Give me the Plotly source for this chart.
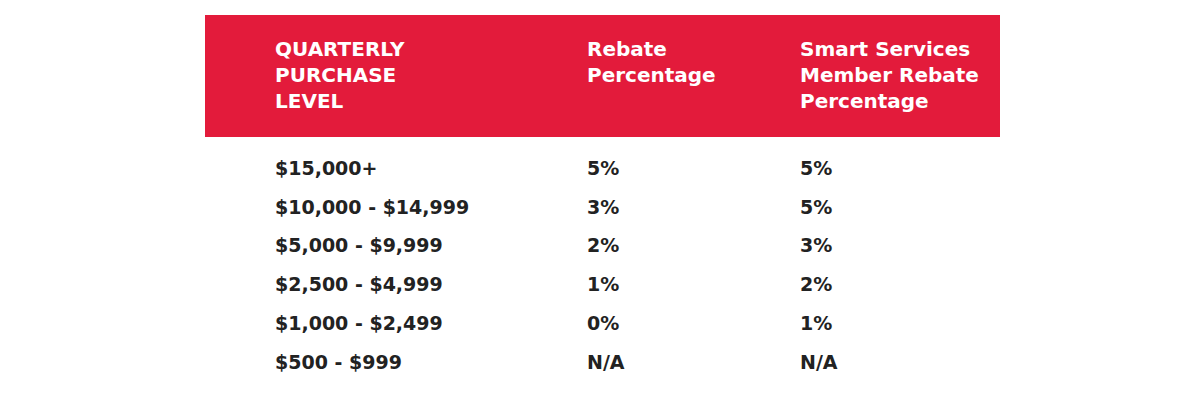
import plotly.graph_objects as go

# Datos de la tabla
HEADERS = ['QUARTERLY<br>PURCHASE<br>LEVEL', 'Rebate<br>Percentage', 'Smart Services<br>Member Rebate<br>Percentage']
LEVELS = ['$15,000+', '$10,000 - $14,999', '$5,000 - $9,999', '$2,500 - $4,999', '$1,000 - $2,499', '$500 - $999']
REBATE = ['5%', '3%', '2%', '1%', '0%', 'N/A']
SMART = ['5%', '5%', '3%', '2%', '1%', 'N/A']

RED = '#e31b3b'
TEXT = '#222222'
FONT = 'DejaVu Sans'
OFF = 8  # el navegador desplaza la página 8px
COL_X = [273 - OFF, 585 - OFF, 798 - OFF]
ROW_Y0, ROW_DY = 168 - OFF, 38.7

fig = go.Figure()
fig.add_shape(type='rect', x0=205 - OFF, x1=1000 - OFF, y0=15 - OFF, y1=137 - OFF,
              fillcolor=RED, line_width=0, layer='below')

for x, h in zip(COL_X, HEADERS):
    fig.add_annotation(x=x, y=35 - OFF, text='<b>' + h + '</b>', xanchor='left', yanchor='top',
                       align='left', showarrow=False,
                       font=dict(family=FONT, size=20, color='white'))

for i, row in enumerate(zip(LEVELS, REBATE, SMART)):
    y = ROW_Y0 + i * ROW_DY
    for x, val in zip(COL_X, row):
        fig.add_annotation(x=x, y=y, text='<b>' + val + '</b>', xanchor='left', yanchor='middle',
                           showarrow=False, font=dict(family=FONT, size=19, color=TEXT))

fig.update_layout(
    width=1200, height=410,
    margin=dict(l=0, r=0, t=0, b=0),
    paper_bgcolor='white', plot_bgcolor='white',
    xaxis=dict(range=[0, 1200], visible=False, fixedrange=True),
    yaxis=dict(range=[410, 0], visible=False, fixedrange=True),
    showlegend=False,
)

fig.write_html("out.html")
